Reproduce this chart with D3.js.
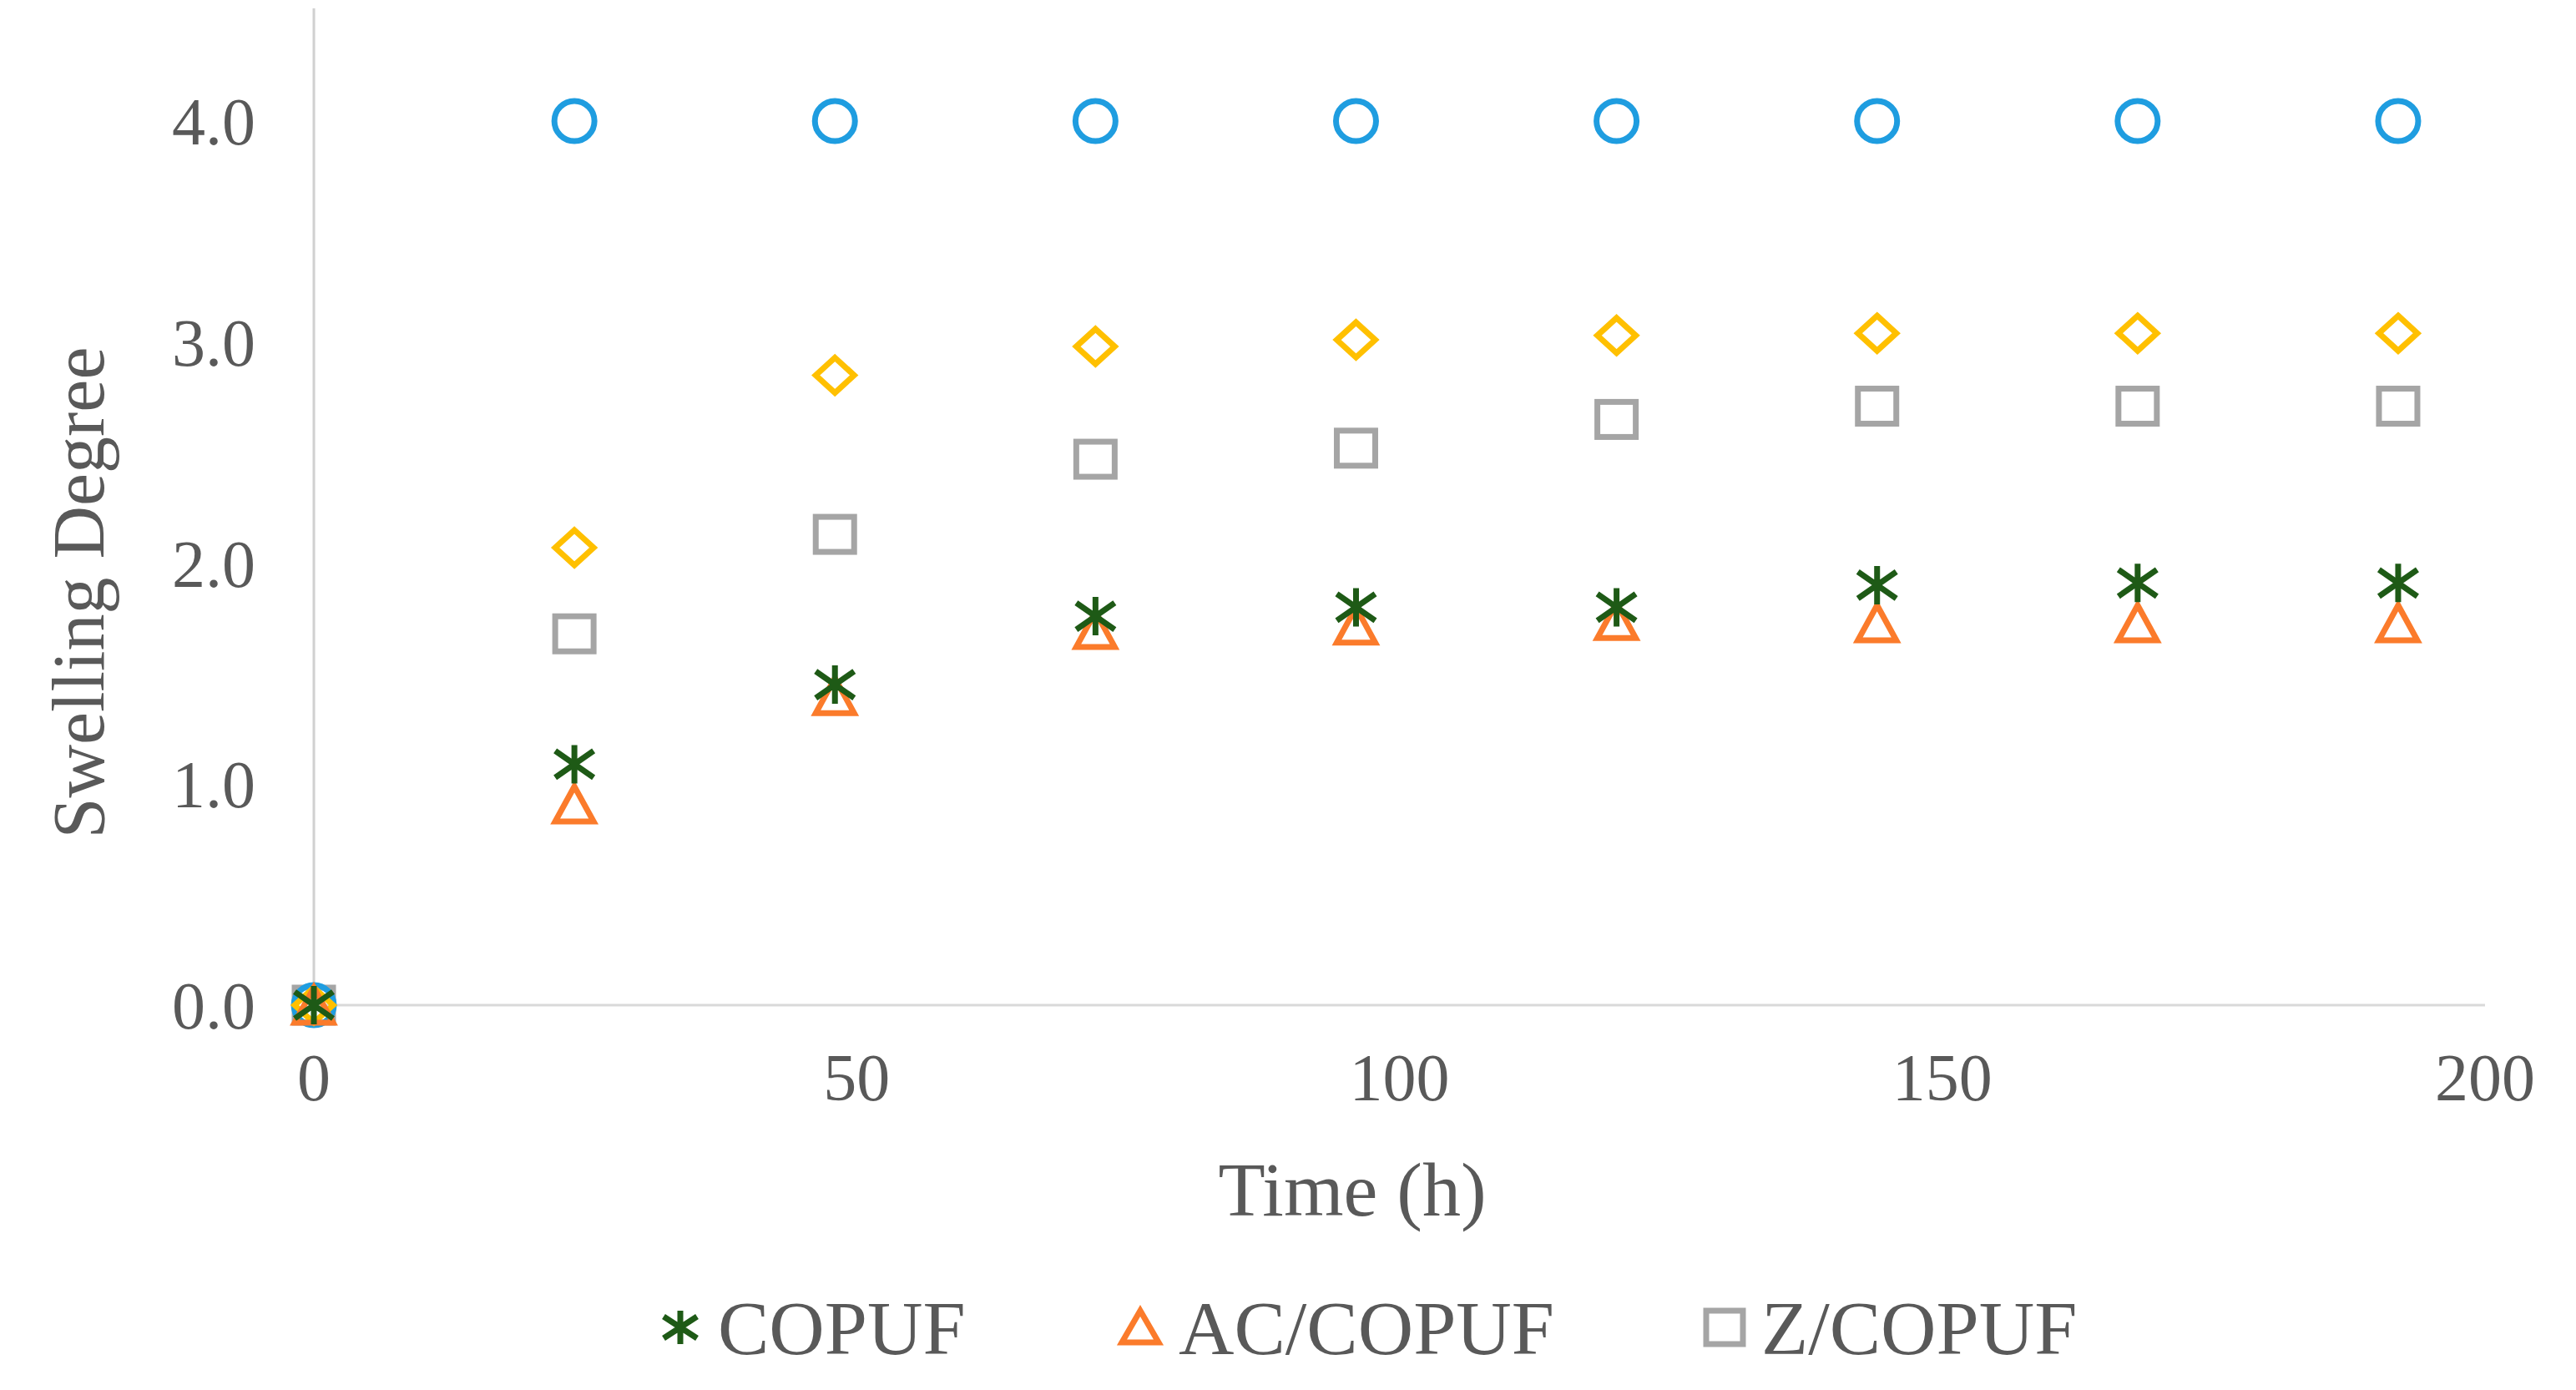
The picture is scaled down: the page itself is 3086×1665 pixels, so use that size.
<!DOCTYPE html>
<html><head><meta charset="utf-8">
<script src="https://cdn.jsdelivr.net/npm/d3@7"></script>
<style>body{margin:0;background:#fff}</style></head>
<body><svg id="c" width="3086" height="1665"></svg>
<script>
const times = [0,24,48,72,96,120,144,168,192];
const seriesCircle = [0,4.0,4.0,4.0,4.0,4.0,4.0,4.0,4.0];
const seriesDiamond = [0,2.07,2.85,2.98,3.01,3.03,3.04,3.04,3.04];
const seriesZ = [0,1.68,2.13,2.47,2.52,2.65,2.71,2.71,2.71];
const seriesCOPUF = [0,1.09,1.45,1.76,1.80,1.80,1.90,1.91,1.91];
const seriesAC = [0,0.91,1.40,1.70,1.72,1.74,1.73,1.73,1.73];
const xTicks = [0,50,100,150,200];
const yTicks = [0,1,2,3,4];

const svg = d3.select("#c");
const x = d3.scaleLinear().domain([0,200]).range([376,2977]);
const y = d3.scaleLinear().domain([0,4]).range([1204,145]);
const txt = "#595959", font = "'Liberation Serif', 'Times New Roman', serif";

svg.append("line").attr("x1",x(0)).attr("x2",x(0)).attr("y1",10).attr("y2",y(0)).attr("stroke","#d0d0d0").attr("stroke-width",3);
svg.append("line").attr("x1",x(0)).attr("x2",x(200)).attr("y1",y(0)).attr("y2",y(0)).attr("stroke","#d9d9d9").attr("stroke-width",3);

svg.selectAll(".yt").data(yTicks).join("text").attr("x",306).attr("y",d=>y(d)).attr("dy","0.35em")
  .attr("text-anchor","end").attr("font-family",font).attr("font-size",80).attr("fill",txt).text(d=>d.toFixed(1));
svg.selectAll(".xt").data(xTicks).join("text").attr("x",d=>x(d)).attr("y",1318)
  .attr("text-anchor","middle").attr("font-family",font).attr("font-size",80).attr("fill",txt).text(d=>d);

svg.append("text").attr("x",1620).attr("y",1456).attr("text-anchor","middle").attr("font-family",font).attr("font-size",92).attr("fill",txt).text("Time (h)");
svg.append("text").attr("transform","translate(124,710) rotate(-90)").attr("text-anchor","middle").attr("font-family",font).attr("font-size",88).attr("fill",txt).text("Swelling Degree");

const sw = 7;
function drawSeries(vals, shape, color){
  const g = svg.append("g");
  vals.forEach((v,i)=>{
    const cx = x(times[i]), cy = y(v);
    if(shape==="circle") g.append("circle").attr("cx",cx).attr("cy",cy).attr("r",24).attr("fill","none").attr("stroke",color).attr("stroke-width",sw);
    else if(shape==="diamond") g.append("path").attr("d",`M${cx},${cy-21}L${cx+23},${cy}L${cx},${cy+21}L${cx-23},${cy}Z`).attr("fill","none").attr("stroke",color).attr("stroke-width",sw);
    else if(shape==="square") g.append("rect").attr("x",cx-23).attr("y",cy-21).attr("width",46).attr("height",42).attr("fill","none").attr("stroke",color).attr("stroke-width",sw);
    else if(shape==="tri") g.append("path").attr("d",`M${cx},${cy-21}L${cx+23},${cy+21}L${cx-23},${cy+21}Z`).attr("fill","none").attr("stroke",color).attr("stroke-width",sw);
    else if(shape==="ast") g.append("path").attr("d",`M${cx},${cy-23}V${cy+23}M${cx-23},${cy-16}L${cx+23},${cy+16}M${cx-23},${cy+16}L${cx+23},${cy-16}`).attr("stroke",color).attr("stroke-width",sw);
  });
}
drawSeries(seriesZ,"square","#a5a5a5");
drawSeries(seriesCircle,"circle","#1f9de0");
drawSeries(seriesDiamond,"diamond","#ffc000");
drawSeries(seriesAC,"tri","#fb7b2b");
drawSeries(seriesCOPUF,"ast","#1e5a16");

const legend = [
  {name:"COPUF", shape:"ast", color:"#1e5a16", mx:815, tx:860},
  {name:"AC/COPUF", shape:"tri", color:"#fb7b2b", mx:1366, tx:1412},
  {name:"Z/COPUF", shape:"square", color:"#a5a5a5", mx:2066, tx:2110}
];
const ly = 1590;
legend.forEach(l=>{
  const g = svg.append("g");
  const cx=l.mx, cy=ly;
  if(l.shape==="ast") g.append("path").attr("d",`M${cx},${cy-20}V${cy+20}M${cx-20},${cy-13}L${cx+20},${cy+13}M${cx-20},${cy+13}L${cx+20},${cy-13}`).attr("stroke",l.color).attr("stroke-width",sw);
  if(l.shape==="tri") g.append("path").attr("d",`M${cx},${cy-20}L${cx+22},${cy+18}L${cx-22},${cy+18}Z`).attr("fill","none").attr("stroke",l.color).attr("stroke-width",sw);
  if(l.shape==="square") g.append("rect").attr("x",cx-22).attr("y",cy-20).attr("width",44).attr("height",40).attr("fill","none").attr("stroke",l.color).attr("stroke-width",sw);
  svg.append("text").attr("x",l.tx).attr("y",ly).attr("dy","0.35em").attr("font-family",font).attr("font-size",92).attr("fill",txt).text(l.name);
});
</script></body></html>
